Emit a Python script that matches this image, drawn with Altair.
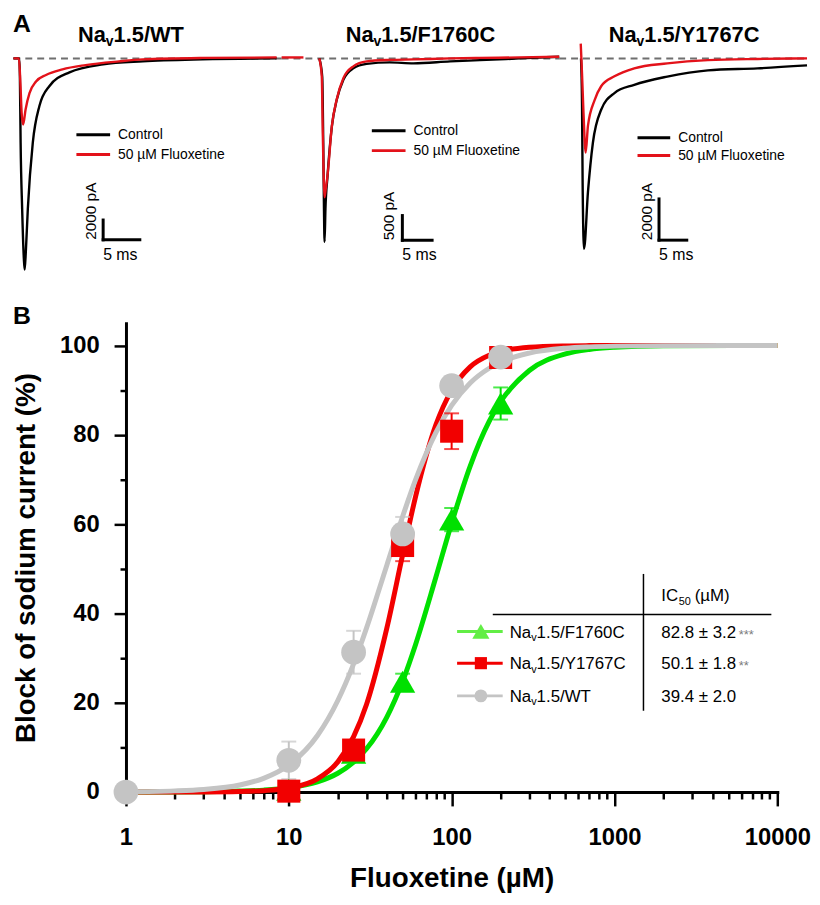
import altair as alt
import pandas as pd

FONT = "Liberation Sans"
OX, OY = 123, 322          # page position of panel B plot origin
PW, PH = 657, 473          # panel B plot size

def rx(px):
    return px - OX

def ry(py):
    return py - OY

# Arial / Liberation Sans advance widths (per 1000 em), used to lay out subscripts
W_REG = {" ": 278, "(": 333, ")": 333, ".": 278, "/": 278, "C": 722, "F": 611, "I": 278, "M": 833,
         "N": 722, "T": 611, "W": 944, "Y": 667, "a": 556, "v": 500, "µ": 576, "±": 549, "*": 389}
W_BOLD = {" ": 278, ".": 278, "/": 278, "C": 722, "F": 611, "N": 722, "T": 611, "W": 944, "Y": 667,
          "a": 556, "v": 556}
for d in "0123456789":
    W_REG[d] = 556
    W_BOLD[d] = 556


def tw(s, size, bold):
    table = W_BOLD if bold else W_REG
    return sum(table.get(ch, 556) for ch in s) * size / 1000.0


def txt(s, x, y, size, weight="normal", align="left", baseline="middle", color="black"):
    return alt.Chart(pd.DataFrame({"s": [s]})).mark_text(
        font=FONT, fontSize=size, fontWeight=weight, align=align, baseline=baseline, color=color
    ).encode(x=alt.value(x), y=alt.value(y), text="s:N")


def rich(parts, x, y, bold=False, center=False):
    """parts: list of (text, size, dy, gap_before); y is the alphabetic baseline."""
    total = sum(tw(p[0], p[1], bold) + p[3] for p in parts)
    x0 = x - total / 2 if center else x
    out = []
    for s, size, dy, gap in parts:
        x0 += gap
        out.append(txt(s, x0, y + dy, size, "bold" if bold else "normal", baseline="alphabetic"))
        x0 += tw(s, size, bold)
    return out


def hline(x1, x2, y, color, width):
    return alt.Chart(pd.DataFrame({"a": [0]})).mark_rule(color=color, strokeWidth=width).encode(
        x=alt.value(x1), x2=alt.value(x2), y=alt.value(y))


def vline(x, y1, y2, color, width):
    return alt.Chart(pd.DataFrame({"a": [0]})).mark_rule(color=color, strokeWidth=width).encode(
        x=alt.value(x), y=alt.value(y1), y2=alt.value(y2))


# ------------------------------------------------------------------
# Panel A : sodium current traces (time in ms, current in pA)
# ------------------------------------------------------------------
channel_prefix = ("Na", "v")
panel_suffix = ["1.5/WT", "1.5/F1760C", "1.5/Y1767C"]
legend_labels = ["Control", "50 µM Fluoxetine"]

wt_ctrl_t = [-0.8, 0.0, 0.08, 0.18, 0.39, 0.62, 0.73, 0.89, 1.16, 1.84, 2.74, 4.09, 6.84, 11.43, 16.84, 24.95, 35.08]
wt_ctrl_i = [0, 0, -1800, -8500, -15200, -20200, -21300, -19500, -15200, -8500, -4800, -2800, -1400, -600, -300, -100, 0]
wt_drug_t = [-0.8, -0.05, 0.15, 0.32, 0.53, 0.85, 1.39, 2.28, 3.64, 5.89, 9.04, 13.59, 16.84, 24.95, 35.08]
wt_drug_i = [0, 0, -2500, -5500, -6670, -5170, -3500, -2330, -1670, -1100, -670, -300, -100, 50, 100]

f_pre_t = [-6.5, -2.83]
f_pre_i = [20, 20]
f_ctrl_t = [-0.17, 0.33, 0.5, 0.62, 0.72, 0.87, 1.22, 1.95, 2.78, 3.88, 5.55, 7.78, 11.67, 15.67, 21.83, 26.83, 33.5, 40.17]
f_ctrl_i = [0, -370, -1700, -3030, -3700, -3030, -2370, -1370, -830, -430, -200, -110, -80, -100, -60, -35, 0, 35]
f_drug_t = [-0.17, 0.25, 0.42, 0.72, 0.9, 1.22, 1.95, 2.78, 3.88, 5.55, 7.78, 11.67, 15.67, 21.83, 26.83, 33.5, 40.17]
f_drug_i = [0, -360, -1500, -2800, -2650, -2360, -1360, -820, -400, -160, -60, -30, -20, 0, 10, 20, 35]

y_ctrl_t = [0.0, 0.18, 0.29, 0.54, 1.25, 2.14, 3.63, 6.02, 9.59, 15.54, 22.86, 31.79, 40.71]
y_ctrl_i = [0, -2160, -6010, -9235, -6490, -4090, -2490, -1680, -1280, -880, -577, -481, -337]
y_drug_t = [-0.05, 0.18, 0.45, 0.84, 1.25, 2.45, 3.63, 6.02, 9.59, 15.54, 22.86, 31.79, 40.71]
y_drug_i = [720, -720, -2650, -4570, -3270, -2020, -1350, -870, -480, -240, -80, -25, 0]

scale_bar_ms = [5, 5, 5]
scale_bar_pA = [2000, 500, 2000]
scale_bar_t0 = [11.43, 13.8, 14.05]
scale_bar_i0 = [-18300, -3670, -8817]

BLACK = "#000000"
RED_A = "#e3121a"

sub_time_dom = [[-1.0, 35.76], [-6.5, 40.1667], [-3.9286, 41.0714]]
sub_base_start = [-0.8, -6.5, -3.9286]
sub_page_x = [[8, 280], [280, 560], [560, 812]]
sub_cur_dom = [[-25000, 2000], [-5000, 400], [-12025, 962]]
sub_traces = [
    [(wt_ctrl_t, wt_ctrl_i, BLACK), (wt_drug_t, wt_drug_i, RED_A)],
    [(f_pre_t, f_pre_i, RED_A), (f_ctrl_t, f_ctrl_i, BLACK), (f_drug_t, f_drug_i, RED_A)],
    [(y_ctrl_t, y_ctrl_i, BLACK), (y_drug_t, y_drug_i, RED_A)],
]
bar_label_dy = [-7, -8, -7]


def subpanel(k):
    xs = alt.Scale(domain=sub_time_dom[k], range=[rx(sub_page_x[k][0]), rx(sub_page_x[k][1])], nice=False, zero=False)
    ys = alt.Scale(domain=sub_cur_dom[k], range=[ry(305), ry(35)], nice=False, zero=False)

    def X(f):
        return alt.X(f"{f}:Q", scale=xs, axis=None)

    def Y(f):
        return alt.Y(f"{f}:Q", scale=ys, axis=None)

    layers = []
    base = pd.DataFrame({"t": [sub_base_start[k]], "t2": [sub_time_dom[k][1]], "i": [0]})
    layers.append(alt.Chart(base).mark_rule(color="#6f6f6f", strokeWidth=2, strokeDash=[7, 5]).encode(
        x=X("t"), x2="t2", y=Y("i")))
    for t, i, col in sub_traces[k]:
        df = pd.DataFrame({"t": t, "i": i})
        layers.append(alt.Chart(df).mark_line(color=col, strokeWidth=2.4, interpolate="monotone").encode(
            x=X("t"), y=Y("i")))
    bar = pd.DataFrame({
        "t": [scale_bar_t0[k]], "t2": [scale_bar_t0[k] + scale_bar_ms[k]],
        "i": [scale_bar_i0[k]], "i2": [scale_bar_i0[k] + scale_bar_pA[k]],
        "lab_v": [f"{scale_bar_pA[k]} pA"], "lab_h": [f"{scale_bar_ms[k]} ms"],
    })
    layers.append(alt.Chart(bar).mark_rule(color="black", strokeWidth=3, strokeCap="square").encode(
        x=X("t"), y=Y("i"), y2="i2"))
    layers.append(alt.Chart(bar).mark_rule(color="black", strokeWidth=3, strokeCap="square").encode(
        x=X("t"), x2="t2", y=Y("i")))
    layers.append(alt.Chart(bar).mark_text(font=FONT, fontSize=15.5, angle=270, align="left",
                                           baseline="alphabetic", dy=bar_label_dy[k], color="black").encode(
        x=X("t"), y=Y("i"), text="lab_v:N"))
    layers.append(alt.Chart(bar).mark_text(font=FONT, fontSize=16, align="left",
                                           baseline="alphabetic", dy=20, color="black").encode(
        x=X("t"), y=Y("i"), text="lab_h:N"))
    return alt.layer(*layers)


annot = []
annot.append(txt("A", rx(9), ry(8), 25, "bold", baseline="top"))
annot.append(txt("B", rx(9), ry(303), 25, "bold", baseline="top"))
title_cx = [128, 420, 686]
for k in range(3):
    annot += rich([(channel_prefix[0], 22, 0, 0), (channel_prefix[1], 14, 4, 0), (panel_suffix[k], 22, 0, 0)],
                  rx(title_cx[k]), ry(38), bold=True, center=True)
leg_x = [(73, 107, 115), (371, 405, 413), (639, 672, 680)]
leg_y = [(132, 152), (128, 148), (135, 153)]
for k in range(3):
    x1, x2, xt = leg_x[k]
    for j, col in enumerate([BLACK, RED_A]):
        annot.append(hline(rx(x1), rx(x2), ry(leg_y[k][j]), col, 3))
        annot.append(txt(legend_labels[j], rx(xt), ry(leg_y[k][j]), 14))

# ------------------------------------------------------------------
# Panel B : concentration-response
# ------------------------------------------------------------------
series_suffix = ["1.5/F1760C", "1.5/Y1767C", "1.5/WT"]
ic50_text = ["82.8 ± 3.2", "50.1 ± 1.8", "39.4 ± 2.0"]
stars_text = ["***", "**", ""]

conc_wt = [1, 10, 25, 50, 100, 200]
block_wt = [0.0, 7.1, 31.3, 57.8, 91.0, 97.4]
sem_wt = [0.0, 4.2, 4.8, 3.8, 1.0, 0.8]
conc_mut = [10, 25, 50, 100, 200]
block_y1767c = [0.2, 9.4, 55.2, 80.8, 97.3]
sem_y1767c = [0.2, 1.0, 3.5, 4.0, 0.8]
block_f1760c = [0.5, 8.8, 24.7, 61.0, 87.0]
sem_f1760c = [0.3, 0.8, 1.8, 2.6, 3.6]

fit_conc = [1, 2, 3, 5, 7, 10, 15, 20, 25, 30, 40, 50, 60, 80, 100, 130, 170, 200, 300, 500, 700, 1000, 2000, 10000]
fit_wt = [0.06, 0.26, 0.58, 1.58, 3.06, 6.05, 12.66, 20.5, 28.7, 36.7, 50.8, 61.7, 69.9, 80.5, 86.6, 91.6,
          94.9, 96.3, 98.3, 99.38, 99.68, 99.85, 99.96, 100.0]
fit_y1767c = [0.0, 0.01, 0.02, 0.11, 0.31, 0.9, 2.96, 6.75, 12.4, 19.6, 36.7, 53.1, 66.1, 82.2, 90.0, 95.2,
              97.8, 98.64, 99.59, 99.91, 99.97, 99.99, 100.0, 100.0]
fit_f1760c = [0.01, 0.03, 0.07, 0.21, 0.43, 0.95, 2.28, 4.21, 6.69, 9.68, 16.8, 24.8, 33.0, 48.1, 60.2, 73.0,
              83.0, 87.4, 94.4, 98.1, 99.1, 99.58, 99.91, 100.0]

x_ticks = [m * 10 ** e for e in range(4) for m in range(1, 10)] + [10000]
y_ticks = [0, 10, 20, 30, 40, 50, 60, 70, 80, 90, 100]

GREEN, RED, GRAY = "#00e000", "#f20000", "#c4c4c4"
GREEN_LEG = "#62ee45"

major_x = "abs(log(datum.value) / LN10 - round(log(datum.value) / LN10)) < 0.01"
major_y = "datum.value % 20 == 0"

x_axis = alt.Axis(
    orient="bottom", values=x_ticks, labelExpr=f"({major_x}) ? format(datum.value, 'd') : ''",
    tickSize={"condition": {"test": major_x, "value": 14}, "value": 7},
    tickWidth=2.5, tickColor="black", domainWidth=3, domainColor="black", domainCap="square",
    labelFont=FONT, labelFontSize=24, labelFontWeight="bold", labelColor="black", labelPadding=20,
    labelOverlap=False, labelBound=False, labelFlush=False, grid=False,
    title="Fluoxetine (µM)", titleFont=FONT, titleFontSize=28, titleFontWeight="bold", titleColor="black",
    titleBaseline="alphabetic", titleAlign="center", titleX=PW / 2, titleY=95)
y_axis = alt.Axis(
    orient="left", values=y_ticks, labelExpr=f"({major_y}) ? datum.label : ''",
    tickSize={"condition": {"test": major_y, "value": 12}, "value": 6},
    tickWidth=2.5, tickColor="black", domainWidth=3, domainColor="black", domainCap="square",
    labelFont=FONT, labelFontSize=24, labelFontWeight="bold", labelColor="black", labelPadding=15,
    labelOverlap=False, labelBound=False, labelFlush=False, grid=False,
    title="Block of sodium current (%)", titleFont=FONT, titleFontSize=28, titleFontWeight="bold",
    titleColor="black", titleBaseline="alphabetic", titleAlign="center", titleAngle=270,
    titleX=rx(30.5), titleY=PH / 2)

xscale = alt.Scale(type="log", domain=[1, 10000], nice=False)
yscale = alt.Scale(domain=[0, 105], nice=False, zero=False)


def XY():
    return dict(x=alt.X("c:Q", scale=xscale, axis=x_axis), y=alt.Y("v:Q", scale=yscale, axis=y_axis))


series = [
    (conc_mut, block_f1760c, sem_f1760c, fit_f1760c, GREEN, "triangle-up", 650),
    (conc_mut, block_y1767c, sem_y1767c, fit_y1767c, RED, "square", 540),
    (conc_wt, block_wt, sem_wt, fit_wt, GRAY, "circle", 625),
]

b_lines, b_err, b_pts = [], [], []
for conc, val, sem, fit, col, shp, sz in series:
    fdf = pd.DataFrame({"c": fit_conc, "v": fit})
    b_lines.append(alt.Chart(fdf).mark_line(color=col, strokeWidth=5, interpolate="monotone").encode(**XY()))
    edf = pd.DataFrame({"c": conc, "v": [a - b for a, b in zip(val, sem)], "v2": [a + b for a, b in zip(val, sem)]})
    edf = edf[edf["v2"] > edf["v"]]
    b_err.append(alt.Chart(edf).mark_rule(color=col, strokeWidth=2).encode(y2="v2", **XY()))
    cdf = pd.DataFrame({"c": list(edf["c"]) * 2, "v": list(edf["v"]) + list(edf["v2"])})
    b_err.append(alt.Chart(cdf).mark_tick(color=col, orient="horizontal", size=15, thickness=2).encode(**XY()))
    pdf = pd.DataFrame({"c": conc, "v": val})
    b_pts.append(alt.Chart(pdf).mark_point(shape=shp, filled=True, size=sz, color=col, opacity=1).encode(**XY()))

panel_b = alt.layer(*b_lines, *b_err, *b_pts)

# legend + IC50 table inside panel B
leg_rows_y = [633, 665, 698]
leg_base = [639.5, 671, 704]
leg_cols = [GREEN_LEG, RED, GRAY]
leg_shapes = [("triangle-up", 300), ("square", 150), ("circle", 170)]
for j in range(3):
    annot.append(hline(rx(457), rx(503), ry(leg_rows_y[j]), leg_cols[j], 3))
    shp, sz = leg_shapes[j]
    annot.append(alt.Chart(pd.DataFrame({"a": [0]})).mark_point(
        shape=shp, size=sz, filled=True, color=leg_cols[j], opacity=1).encode(
        x=alt.value(rx(481)), y=alt.value(ry(leg_rows_y[j]))))
    annot += rich([(channel_prefix[0], 17, 0, 0), (channel_prefix[1], 11, 3.5, 0), (series_suffix[j], 17, 0, 0)],
                  rx(510), ry(leg_base[j]))
    annot.append(txt(ic50_text[j], rx(663), ry(leg_base[j]), 17, baseline="alphabetic"))
    if stars_text[j]:
        annot.append(txt(stars_text[j], rx(741), ry(leg_base[j]) + 1, 13, color="#7a7a7a", baseline="alphabetic"))
annot.append(vline(rx(645), ry(575), ry(713), "black", 1.5))
annot.append(hline(rx(493), rx(774), ry(616), "black", 1.5))
annot += rich([("IC", 17, 0, 0), ("50", 11, 3.5, 0.5), ("(µM)", 17, 0, 4)], rx(663), ry(602.5))

chart = alt.layer(
    subpanel(0), subpanel(1), subpanel(2), panel_b, *annot
).resolve_scale(x="independent", y="independent").properties(
    width=PW, height=PH, padding=0
).configure_view(stroke=None)

chart.save("out.html", embed_options={"renderer": "svg", "actions": False})
